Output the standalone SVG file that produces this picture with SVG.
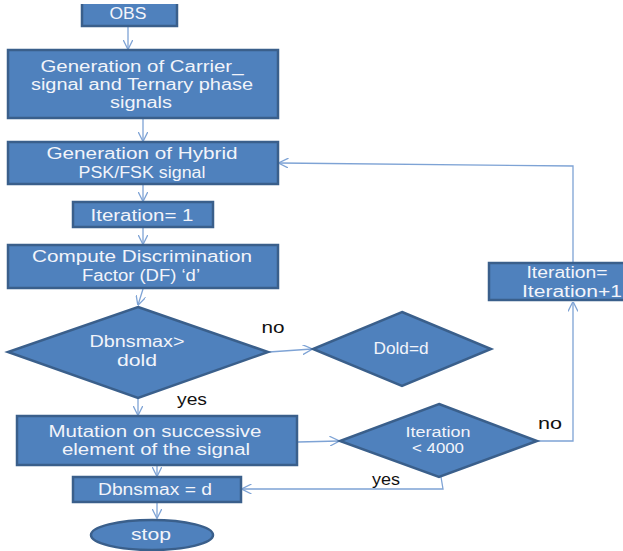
<svg xmlns="http://www.w3.org/2000/svg" width="623" height="551" viewBox="0 0 623 551">
<style>
.n{fill:#4F81BD;stroke:#3A5F8B;stroke-width:2.5}
.t{font-family:"Liberation Sans",Arial,sans-serif;font-size:16px;fill:#F2F4FA;text-anchor:middle}
.s{font-size:14px}
.l{font-family:"Liberation Sans",Arial,sans-serif;font-size:16px;fill:#111;text-anchor:middle}
.c{fill:none;stroke:#7EA3D5;stroke-width:1.3}
</style>
<defs>
<marker id="a" viewBox="0 0 10 10" refX="9.5" refY="5" markerWidth="10" markerHeight="10" markerUnits="userSpaceOnUse" orient="auto">
<path d="M0,0 L10,5 L0,10" fill="none" stroke="#7EA3D5" stroke-width="1.3"/>
</marker>
</defs>
<rect width="623" height="551" fill="#fff"/>
<g id="connectors">
<path class="c" d="M128,27 L128,49" marker-end="url(#a)"/>
<path class="c" d="M143,119 L143,141" marker-end="url(#a)"/>
<path class="c" d="M143,185 L143,201" marker-end="url(#a)"/>
<path class="c" d="M143,228 L143,244" marker-end="url(#a)"/>
<path class="c" d="M143,289 L138,305" marker-end="url(#a)"/>
<path class="c" d="M269,352 L312,349" marker-end="url(#a)"/>
<path class="c" d="M138,399 L138,415" marker-end="url(#a)"/>
<path class="c" d="M298,442 L339,441" marker-end="url(#a)"/>
<path class="c" d="M157,466 L157,476" marker-end="url(#a)"/>
<path class="c" d="M157,503 L157,518" marker-end="url(#a)"/>
<path class="c" d="M537,441 L573,441 L573,302" marker-end="url(#a)"/>
<path class="c" d="M573,262 L573,166 L279,163" marker-end="url(#a)"/>
<path class="c" d="M441,477 L443,489 L242,489" marker-end="url(#a)"/>
</g>
<g id="obs"><rect x="82" y="4" width="95" height="22" fill="#4F81BD"/><path d="M82,4 L82,26 L177,26 L177,4" fill="none" stroke="#3A5F8B" stroke-width="2.5"/><text class="t" x="128" y="19" textLength="37" lengthAdjust="spacingAndGlyphs">OBS</text></g>
<g id="gen-carrier"><rect class="n" x="8" y="50" width="270" height="68"/>
<text class="t" x="142" y="72" textLength="203" lengthAdjust="spacingAndGlyphs">Generation of Carrier_</text>
<text class="t" x="142" y="90" textLength="222" lengthAdjust="spacingAndGlyphs">signal and Ternary phase</text>
<text class="t" x="141" y="108" textLength="62" lengthAdjust="spacingAndGlyphs">signals</text></g>
<g id="gen-hybrid"><rect class="n" x="8" y="142" width="270" height="42"/>
<text class="t" x="142" y="159" textLength="191" lengthAdjust="spacingAndGlyphs">Generation of Hybrid</text>
<text class="t" x="142" y="178" textLength="127" lengthAdjust="spacingAndGlyphs">PSK/FSK signal</text></g>
<g id="iter1"><rect class="n" x="73" y="202" width="140" height="25"/>
<text class="t" x="142" y="221" textLength="103" lengthAdjust="spacingAndGlyphs">Iteration= 1</text></g>
<g id="compute-df"><rect class="n" x="8" y="245" width="270" height="43"/>
<text class="t" x="142" y="262" textLength="220" lengthAdjust="spacingAndGlyphs">Compute Discrimination</text>
<text class="t" x="141" y="281" textLength="118" lengthAdjust="spacingAndGlyphs">Factor (DF) ‘d’</text></g>
<g id="dec-dbns"><polygon class="n" points="138,307 268,352 138,398 8,352"/>
<text class="t" x="137" y="347" textLength="95" lengthAdjust="spacingAndGlyphs">Dbnsmax&gt;</text>
<text class="t" x="137" y="366" textLength="40" lengthAdjust="spacingAndGlyphs">dold</text></g>
<g id="dold"><polygon class="n" points="402,312 491,349 402,386 313,349"/>
<text class="t" x="401" y="354" textLength="55" lengthAdjust="spacingAndGlyphs">Dold=d</text></g>
<g id="mutation"><rect class="n" x="17" y="416" width="280" height="49"/>
<text class="t" x="155" y="437" textLength="213" lengthAdjust="spacingAndGlyphs">Mutation on successive</text>
<text class="t" x="156" y="455" textLength="188" lengthAdjust="spacingAndGlyphs">element of the signal</text></g>
<g id="dec-iter"><polygon class="n" points="439,404 537,441 439,477 340,441"/>
<text class="t s" x="438" y="437" textLength="65" lengthAdjust="spacingAndGlyphs">Iteration</text>
<text class="t s" x="438" y="453" textLength="52" lengthAdjust="spacingAndGlyphs">&lt; 4000</text></g>
<g id="iter-inc"><rect class="n" x="489" y="263" width="145" height="37"/>
<text class="t" x="567" y="278" textLength="81" lengthAdjust="spacingAndGlyphs">Iteration=</text>
<text class="t" x="572" y="297" textLength="100" lengthAdjust="spacingAndGlyphs">Iteration+1</text></g>
<g id="dbns-d"><rect class="n" x="73" y="477" width="168" height="25"/>
<text class="t" x="155" y="495" textLength="114" lengthAdjust="spacingAndGlyphs">Dbnsmax = d</text></g>
<g id="stop"><ellipse class="n" cx="152" cy="535" rx="61" ry="15"/>
<text class="t" x="151" y="540" textLength="40" lengthAdjust="spacingAndGlyphs">stop</text></g>
<g id="labels">
<text class="l" x="273" y="333" textLength="23" lengthAdjust="spacingAndGlyphs">no</text>
<text class="l" x="192" y="405" textLength="30" lengthAdjust="spacingAndGlyphs">yes</text>
<text class="l" x="550" y="429" textLength="24" lengthAdjust="spacingAndGlyphs">no</text>
<text class="l" x="386" y="485" textLength="28" lengthAdjust="spacingAndGlyphs">yes</text>
</g>
</svg>
